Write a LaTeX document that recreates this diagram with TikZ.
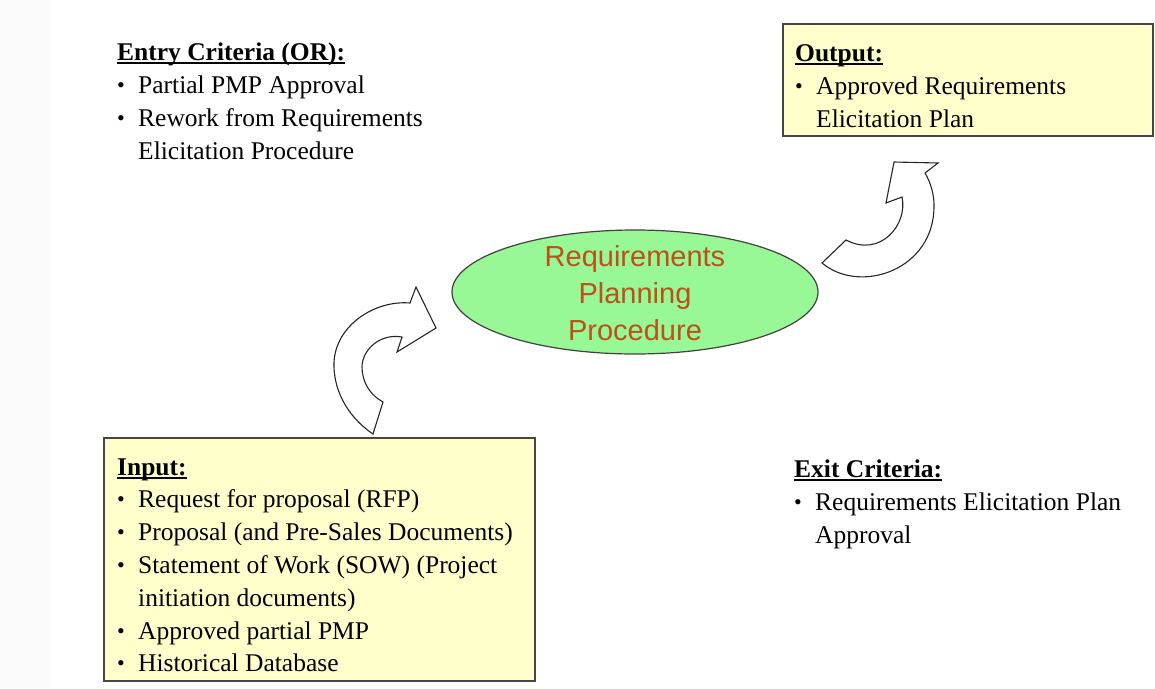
\documentclass[tikz,border=0pt]{standalone}
\usepackage{fontspec}
\usetikzlibrary{shapes.geometric}
\setmainfont{Liberation Serif}
\newfontfamily\arialfont{Liberation Sans}
\definecolor{boxfill}{RGB}{255,255,204}
\definecolor{boxline}{RGB}{70,70,70}
\definecolor{ellfill}{RGB}{152,248,150}
\definecolor{elltext}{RGB}{190,80,25}
\definecolor{stripcol}{RGB}{250,250,250}
\newcommand{\myul}[1]{\setbox0\hbox{#1}\rlap{\rule[-3.5pt]{\wd0}{1.4pt}}\box0}
\newcommand{\bul}{\makebox[21pt][l]{\raisebox{1pt}{\fontsize{22}{22}\selectfont\textbullet}}}
\newcommand{\ind}{\hspace*{21pt}}
\tikzset{
  x=1pt, y=-1pt,
  txt/.style={anchor=base west, inner sep=0pt, font=\fontsize{25.5}{33}\selectfont},
  ybox/.style={draw=boxline, fill=boxfill, line width=1.3pt},
  blockarrow/.style={draw=black!85, fill=white, line width=1.1pt, line join=miter},
}
\begin{document}
\begin{tikzpicture}
\useasboundingbox (0,0) rectangle (1155,688);
\fill[stripcol] (0,0) rectangle (50,688);

% boxes
\draw[ybox] (783,24) rectangle (1153,136);
\draw[ybox] (104,438) rectangle (535,681);

% ellipse
\node[ellipse, draw=black!75, fill=ellfill, line width=1.2pt, minimum width=366pt, minimum height=124pt, inner sep=0pt] (proc) at (635,292) {};
\node[align=center, text=elltext, font=\arialfont\fontsize{29}{37}\selectfont, inner sep=0pt] (proctext) at (635,293) {Requirements\\Planning\\Procedure};

% entry criteria
\node[txt] (entry) at (117,60) {\vtop{\baselineskip=33pt
  \hbox{\myul{\textbf{Entry Criteria (OR):}}}
  \hbox{\bul Partial PMP Approval}
  \hbox{\bul Rework from Requirements}
  \hbox{\ind Elicitation Procedure}}};

% output
\node[txt] (output) at (795,61) {\vtop{\baselineskip=33pt
  \hbox{\myul{\textbf{Output:}}}
  \hbox{\bul Approved Requirements}
  \hbox{\ind Elicitation Plan}}};

% input
\node[txt] (input) at (117,475) {\vtop{\baselineskip=32.8pt
  \hbox{\myul{\textbf{Input:}}}
  \hbox{\bul Request for proposal (RFP)}
  \hbox{\bul Proposal (and Pre-Sales Documents)}
  \hbox{\bul Statement of Work (SOW) (Project}
  \hbox{\ind initiation documents)}
  \hbox{\bul Approved partial PMP}
  \hbox{\bul Historical Database}}};

% exit
\node[txt] (exit) at (794,477) {\vtop{\baselineskip=33pt
  \hbox{\myul{\textbf{Exit Criteria:}}}
  \hbox{\bul Requirements Elicitation Plan}
  \hbox{\ind Approval}}};

% lower-left curved arrow (input -> procedure)
\draw[blockarrow] (373,434) .. controls (345,415) and (333,387) .. (334,362)
  .. controls (336,325) and (375,300) .. (410,303)
  -- (416,287) -- (436,328) -- (397,352) -- (402,337)
  .. controls (380,333) and (362,350) .. (362,367)
  .. controls (362,382) and (370,395) .. (383,402) -- cycle;

% upper-right curved arrow (procedure -> output)
\draw[blockarrow] (822,263) .. controls (860,295) and (935,270) .. (934,205)
  .. controls (934,195) and (931,183) .. (925,173)
  -- (938,163) -- (894,162) -- (886,203) -- (902,197)
  .. controls (908,225) and (880,258) .. (846,240) -- cycle;
\end{tikzpicture}
\end{document}
